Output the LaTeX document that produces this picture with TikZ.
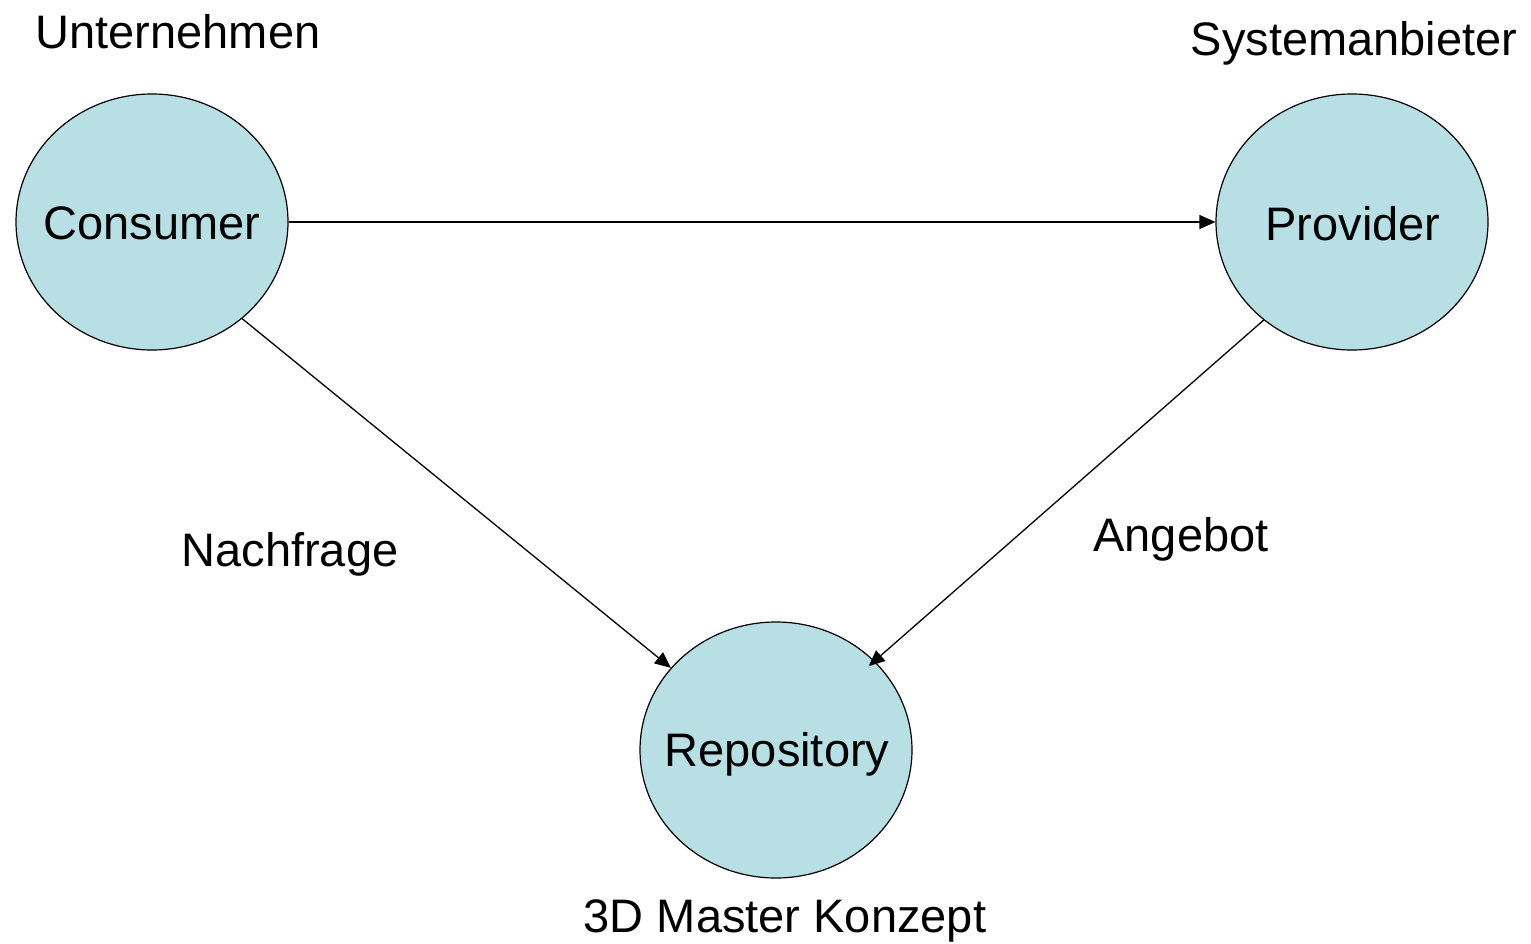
\documentclass[tikz,border=0pt]{standalone}
\usepackage{fontspec}
\setmainfont{Liberation Sans}
\usetikzlibrary{shapes.geometric,arrows.meta}
\definecolor{actorfill}{HTML}{B8DFE3}
\tikzset{
  actor/.style={ellipse, draw=black, line width=1.2pt, fill=actorfill,
    minimum width=272pt, minimum height=256pt, inner sep=0pt},
  lbl/.style={font=\fontsize{47}{56}\selectfont, inner sep=0pt},
  flow/.style={line width=1.3pt, -{Triangle[length=16pt,width=14pt]}}
}
\begin{document}
\begin{tikzpicture}[x=1pt,y=-1pt]
\useasboundingbox (0,0) rectangle (1531,944);
% the three roles, each an ellipse with its name on top
\node[actor] (consumer) at (152,222) {};
\node[actor] (provider) at (1352,222) {};
\node[actor] (repo) at (776,750) {};
\node[lbl] (consumertxt) at (152,223) {Consumer};
\node[lbl] (providertxt) at (1353,224) {Provider};
\node[lbl] (repotxt) at (777,754) {Repository};
% captions
\node[lbl] (unt) at (178,32) {Unternehmen};
\node[lbl] (sys) at (1354,43) {Systemanbieter};
\node[lbl] (nach) at (290,554) {Nachfrage};
\node[lbl] (ang) at (1181,539) {Angebot};
\node[lbl] (mdl) at (785,921) {3D Master Konzept};
% flows
\draw[flow] (consumer.east) -- (provider.west);
\draw[flow] (consumer.-47) -- (repo.142);
\draw[flow] (provider.-132) -- ([shift={(-6pt,-5pt)}]repo.42);
\end{tikzpicture}
\end{document}
